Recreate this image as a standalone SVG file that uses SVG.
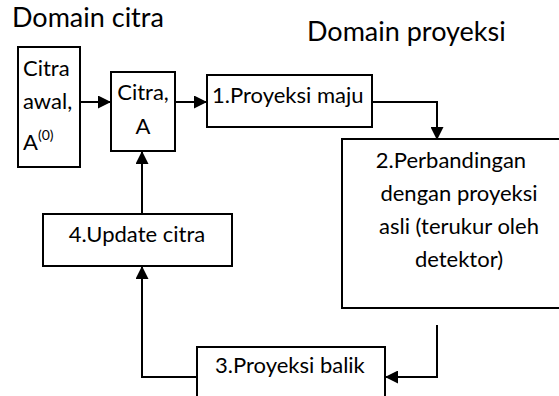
<svg xmlns="http://www.w3.org/2000/svg" width="559" height="396" viewBox="0 0 559 396">
<defs>
<style>
.box{fill:#fff;stroke:#000;stroke-width:2}
.t{font-family:Lato,"Liberation Sans",sans-serif;font-size:22px;fill:#000}
.h{font-family:Lato,"Liberation Sans",sans-serif;font-size:27px;fill:#000}
.c{text-anchor:middle}
.ln{fill:none;stroke:#000;stroke-width:2}
</style>
<marker id="ah" viewBox="0 0 14 14" refX="14" refY="7" markerWidth="14" markerHeight="13" markerUnits="userSpaceOnUse" orient="auto">
<path d="M0,0 L14,7 L0,14 Z" fill="#000"/>
</marker>
</defs>
<rect width="559" height="396" fill="#fff"/>
<text class="h" x="12" y="27">Domain citra</text>
<text class="h" x="307" y="41">Domain proyeksi</text>
<g id="connectors">
<path class="ln" d="M80,102 H111" marker-end="url(#ah)"/>
<path class="ln" d="M175,102 H207" marker-end="url(#ah)"/>
<path class="ln" d="M372,102 H437 V140" marker-end="url(#ah)"/>
<path class="ln" d="M437,325 V377 H385" marker-end="url(#ah)"/>
<path class="ln" d="M197,377 H142 V266" marker-end="url(#ah)"/>
<path class="ln" d="M142,214 V151" marker-end="url(#ah)"/>
</g>
<g id="citra-awal">
<rect class="box" x="18" y="47" width="62" height="120"/>
<text class="t" x="23" y="76">Citra</text>
<text class="t" x="23" y="109">awal,</text>
<text class="t" x="23" y="150">A<tspan font-size="14" dy="-10">(0)</tspan></text>
</g>
<g id="citra-a">
<rect class="box" x="111" y="72" width="64" height="79"/>
<text class="t c" x="143" y="100">Citra,</text>
<text class="t c" x="143" y="134">A</text>
</g>
<g id="proyeksi-maju">
<rect class="box" x="207" y="75" width="165" height="52"/>
<text class="t" x="212" y="103">1.Proyeksi maju</text>
</g>
<g id="perbandingan">
<rect class="box" x="342" y="139" width="230" height="169"/>
<text class="t c" x="451" y="168">2.Perbandingan</text>
<text class="t c" x="459" y="201">dengan proyeksi</text>
<text class="t c" x="459" y="234">asli (terukur oleh</text>
<text class="t c" x="459" y="267">detektor)</text>
</g>
<g id="update-citra">
<rect class="box" x="43" y="214" width="189" height="52"/>
<text class="t c" x="137" y="242">4.Update citra</text>
</g>
<g id="proyeksi-balik">
<rect class="box" x="197" y="347" width="188" height="60"/>
<text class="t" x="215" y="373">3.Proyeksi balik</text>
</g>
</svg>
